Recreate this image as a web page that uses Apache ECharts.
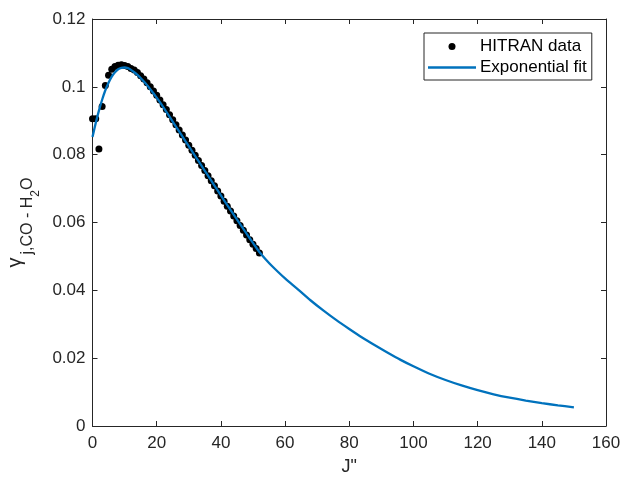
<!DOCTYPE html>
<html>
<head>
<meta charset="utf-8">
<script src="https://cdn.jsdelivr.net/npm/echarts@6/dist/echarts.min.js"></script>
<style>
html,body{margin:0;padding:0;background:#fff;}
#chart{width:624px;height:479px;}
</style>
</head>
<body>
<div id="chart"></div>
<script>
// HITRAN data points (J", gamma)
var hitranJ = [0,1,2,3,4,5,6,7,8,9,10,11,12,13,14,15,16,17,18,19,20,21,22,23,24,25,26,27,28,29,30,31,32,33,34,35,36,37,38,39,40,41,42,43,44,45,46,47,48,49,50,51,52];
var hitranGamma = [0.0906,0.0906,0.0817,0.0942,0.1004,0.1034,0.1052,0.1060,0.1064,0.1065,0.1063,0.1060,0.1054,0.1050,0.1042,0.1033,0.1023,0.1012,0.1000,0.0988,0.0975,0.0961,0.0947,0.0933,0.0918,0.0903,0.0888,0.0873,0.0858,0.0843,0.0828,0.0813,0.0798,0.0783,0.0768,0.0753,0.0738,0.0723,0.0708,0.0693,0.0678,0.0663,0.0648,0.0634,0.0619,0.0605,0.0591,0.0577,0.0563,0.0549,0.0536,0.0523,0.0510];

// Exponential fit curve (J", gamma)
var fitJ = [0,1,2,3,4,5,6,7,8,9,10,11,12,13,14,15,16,17,18,19,20,21,22,24,26,28,30,32,34,36,38,40,42,44,46,48,50,52,54,56,60,64,68,72,76,80,84,88,92,96,100,105,110,115,120,125,130,135,140,145,150];
var fitGamma = [0.0852,0.0893,0.0930,0.0962,0.0990,0.1012,0.1030,0.1043,0.1052,0.1056,0.1057,0.1055,0.1050,0.1043,0.1035,0.1026,0.1016,0.1005,0.0993,0.0981,0.0968,0.0955,0.0941,0.0912,0.0883,0.0854,0.0825,0.0796,0.0767,0.0738,0.0709,0.0680,0.0651,0.0623,0.0595,0.0567,0.0540,0.0513,0.0491,0.0471,0.0435,0.0403,0.0370,0.0340,0.0312,0.0286,0.0261,0.0238,0.0216,0.0195,0.0176,0.0154,0.01355,0.01195,0.01055,0.00935,0.00835,0.0075,0.00675,0.0061,0.0055];

var xTicks = {min: 0, max: 160, interval: 20};
var yTicks = {min: 0, max: 0.12, interval: 0.02};
var seriesNames = ['HITRAN data', 'Exponential fit'];
var xLabel = 'J"';
// y label pieces: gamma, subscript, sub-subscript, subscript
var yLabelParts = ['γ', 'j,CO - H', '2', 'O'];

function zip(a, b) { return a.map(function (v, i) { return [v, b[i]]; }); }

var axisColor = '#262626';
var fontFam = '"Liberation Sans", Arial, Helvetica, sans-serif';

// ---- y-axis label built from rotated text pieces ----
var mctx = document.createElement('canvas').getContext('2d');
function tw(t, fs) { mctx.font = fs + 'px ' + fontFam; return mctx.measureText(t).width; }
var partFs = [20, 16, 12, 16];
var partX = [15.5, 28, 35.5, 28];   // screen x of each piece's middle
var gaps = [3, 0, 0, 0];
var widths = yLabelParts.map(function (t, i) { return tw(t, partFs[i]); });
var total = widths.reduce(function (a, b) { return a + b; }, 0) + gaps.reduce(function (a, b) { return a + b; }, 0);
var plotMidY = 19 + (479 - 19 - 53) / 2;
var startY = plotMidY + total / 2;
var children = [];
var acc = 0;
yLabelParts.forEach(function (t, i) {
  children.push({
    type: 'text',
    x: acc, y: partX[i],
    style: {text: t, fontFamily: fontFam, fontSize: partFs[i], fill: axisColor, align: 'left', verticalAlign: 'middle'}
  });
  acc += widths[i] + gaps[i];
});

var chart = echarts.init(document.getElementById('chart'), null, {renderer: 'canvas'});
chart.setOption({
  animation: false,
  backgroundColor: '#ffffff',
  grid: {left: 92.5, right: 18, top: 19, bottom: 53, show: false, containLabel: false, outerBoundsMode: 'none'},
  graphic: [{
    type: 'group', x: 0, y: startY, rotation: Math.PI / 2,
    children: children
  }],
  legend: {
    data: [
      {name: seriesNames[0], icon: 'circle', itemStyle: {color: '#000', opacity: 1}},
      {name: seriesNames[1], icon: 'path://M0,0 L48,0 L48,2.3 L0,2.3 Z', itemStyle: {color: '#0072BD'}}
    ],
    orient: 'vertical',
    left: 424, top: 33,
    itemWidth: 48, itemHeight: 7,
    itemGap: 0,
    symbolKeepAspect: true,
    padding: [3, 5, 2, 4],
    borderColor: axisColor, borderWidth: 1,
    backgroundColor: '#fff',
    textStyle: {fontFamily: fontFam, fontSize: 17, lineHeight: 21, color: '#000', padding: [0, 0, 0, -1]},
    selectedMode: false
  },
  xAxis: [{
    type: 'value', min: xTicks.min, max: xTicks.max, interval: xTicks.interval,
    name: xLabel, nameLocation: 'middle', nameGap: 32,
    nameTextStyle: {fontFamily: fontFam, fontSize: 18, color: axisColor},
    axisLine: {show: true, onZero: false, lineStyle: {color: axisColor, width: 1}},
    axisTick: {show: true, inside: true, length: 5, lineStyle: {color: axisColor}},
    axisLabel: {fontFamily: fontFam, fontSize: 17, color: axisColor, margin: 9},
    splitLine: {show: false}
  }, {
    type: 'value', position: 'top', min: xTicks.min, max: xTicks.max, interval: xTicks.interval,
    axisLine: {show: true, onZero: false, lineStyle: {color: axisColor, width: 1}},
    axisTick: {show: true, inside: true, length: 5, lineStyle: {color: axisColor}},
    axisLabel: {show: false}, splitLine: {show: false}
  }],
  yAxis: [{
    type: 'value', min: yTicks.min, max: yTicks.max, interval: yTicks.interval,
    axisLine: {show: true, onZero: false, lineStyle: {color: axisColor, width: 1}},
    axisTick: {show: true, inside: true, length: 5, lineStyle: {color: axisColor}},
    axisLabel: {fontFamily: fontFam, fontSize: 17, color: axisColor, margin: 7},
    splitLine: {show: false}
  }, {
    type: 'value', position: 'right', min: yTicks.min, max: yTicks.max, interval: yTicks.interval,
    axisLine: {show: true, onZero: false, lineStyle: {color: axisColor, width: 1}},
    axisTick: {show: true, inside: true, length: 5, lineStyle: {color: axisColor}},
    axisLabel: {show: false}, splitLine: {show: false}
  }],
  series: [{
    name: seriesNames[0],
    type: 'scatter',
    data: zip(hitranJ, hitranGamma),
    symbol: 'circle', symbolSize: 7,
    itemStyle: {color: '#000000', opacity: 1},
    z: 2
  }, {
    name: seriesNames[1],
    type: 'line',
    data: zip(fitJ, fitGamma),
    smooth: 0.3,
    showSymbol: false, symbol: 'none',
    lineStyle: {color: '#0072BD', width: 2.3},
    itemStyle: {color: '#0072BD'},
    z: 3
  }]
});
</script>
</body>
</html>
